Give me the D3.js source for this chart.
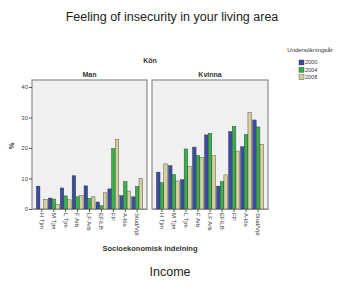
<!DOCTYPE html>
<html>
<head>
<meta charset="utf-8">
<script src="https://cdn.jsdelivr.net/npm/d3@7"></script>
<style>
  body { margin: 0; background: #fff; }
  svg text { font-family: "Liberation Sans", Arial, sans-serif; }
</style>
</head>
<body>
<svg id="chart" width="340" height="287"></svg>
<script>
// categories and series
const categories = ["H Tjm", "M Tjm", "L Tjm", "F Arb", "LF Arb", "EF/LB", "FP", "A-lös", "Stud/Vpl"];
const years = ["2000", "2004", "2008"];
const genders = ["Man", "Kvinna"];
const yTicks = [0, 10, 20, 30, 40];

const man2000 = [7.5, 3.6, 6.9, 10.9, 7.6, 2.3, 6.6, 4.4, 4.0];
const man2004 = [null, 3.3, 4.3, 4.0, 3.5, 1.1, 19.9, 9.0, 7.4];
const man2008 = [3.2, 1.5, 3.0, 4.4, 4.0, 5.3, 22.7, 5.9, 10.0];

const kvinna2000 = [12.1, 14.2, 9.6, 20.3, 24.3, 7.5, 25.4, 20.4, 29.2];
const kvinna2004 = [8.6, 11.3, 19.7, 17.6, 24.8, 9.0, 27.1, 24.4, 26.9];
const kvinna2008 = [14.8, 9.2, 14.0, 16.9, 17.5, 11.2, 19.0, 31.6, 21.2];

const yearColors = ["#3a4ea0", "#35b24a", "#d6d19c"];

const panelData = {
  "Man": [man2000, man2004, man2008],
  "Kvinna": [kvinna2000, kvinna2004, kvinna2008]
};

const svg = d3.select("#chart");

const panelTop = 80, panelBottom = 209;
const panels = { "Man": [32, 147], "Kvinna": [152, 268] };

const y = d3.scaleLinear().domain([0, 42.3]).range([panelBottom, panelTop]);

// titles
svg.append("text").attr("x", 172).attr("y", 21).attr("text-anchor", "middle")
  .attr("font-size", 12.5).attr("fill", "#222")
  .text("Feeling of insecurity in your living area");

svg.append("text").attr("x", 150).attr("y", 63).attr("text-anchor", "middle")
  .attr("font-size", 7).attr("font-weight", "bold").attr("fill", "#333")
  .text("Kön");

svg.append("text").attr("x", 150).attr("y", 251).attr("text-anchor", "middle")
  .attr("font-size", 7.5).attr("font-weight", "bold").attr("fill", "#333")
  .text("Socioekonomisk indelning");

svg.append("text").attr("x", 170).attr("y", 276).attr("text-anchor", "middle")
  .attr("font-size", 12.5).attr("fill", "#222")
  .text("Income");

svg.append("text").attr("transform", "translate(14,146) rotate(-90)")
  .attr("text-anchor", "middle").attr("font-size", 7.5).attr("font-weight", "bold")
  .attr("fill", "#333").text("%");

// panels
genders.forEach(function(g) {
  const [x0, x1] = panels[g];
  const x = d3.scaleBand().domain(categories).range([x0, x1])
    .paddingInner(0.07).paddingOuter(0.36);
  const xs = d3.scaleBand().domain(years).range([0, x.bandwidth()]).padding(0.02);

  svg.append("rect").attr("x", x0).attr("y", panelTop)
    .attr("width", x1 - x0).attr("height", panelBottom - panelTop)
    .attr("fill", "#f0f0f0").attr("stroke", "#8c8c8c").attr("stroke-width", 1.2);

  svg.append("text").attr("x", (x0 + x1) / 2).attr("y", 77).attr("text-anchor", "middle")
    .attr("font-size", 7).attr("font-weight", "bold").attr("fill", "#333").text(g);

  panelData[g].forEach(function(series, yi) {
    svg.append("g").selectAll("rect")
      .data(series.map((v, i) => ({ cat: categories[i], v: v })).filter(d => d.v != null))
      .enter().append("rect")
      .attr("x", d => x(d.cat) + xs(years[yi]))
      .attr("width", xs.bandwidth())
      .attr("y", d => y(d.v))
      .attr("height", d => y(0) - y(d.v))
      .attr("fill", yearColors[yi])
      .attr("stroke", "#333").attr("stroke-width", 0.4);
  });

  const xAxis = d3.axisBottom(x).tickSize(3).tickSizeOuter(0);
  const gx = svg.append("g").attr("transform", `translate(0,${panelBottom})`).call(xAxis);
  gx.select(".domain").attr("stroke", "#8c8c8c");
  gx.selectAll(".tick line").attr("stroke", "#555");
  gx.selectAll(".tick text")
    .attr("font-size", 6).attr("fill", "#333")
    .attr("text-anchor", "start")
    .attr("transform", "rotate(90)")
    .attr("x", 4).attr("y", 0).attr("dy", "0.35em");
});

// y axis
const yAxis = d3.axisLeft(y).tickValues(yTicks).tickSize(3).tickSizeOuter(0);
const gy = svg.append("g").attr("transform", `translate(${panels.Man[0]},0)`).call(yAxis);
gy.select(".domain").remove();
gy.selectAll(".tick line").attr("stroke", "#555");
gy.selectAll(".tick text").attr("font-size", 6).attr("fill", "#444").attr("x", -4);

// legend
const legend = svg.append("g");
legend.append("text").attr("x", 310).attr("y", 52).attr("text-anchor", "middle")
  .attr("font-size", 6).attr("fill", "#333").text("Undersökningsår");
const ly = d3.scaleBand().domain(years).range([59, 81]);
years.forEach(function(yr, i) {
  legend.append("rect").attr("x", 299).attr("y", ly(yr) + 1)
    .attr("width", 5).attr("height", 5)
    .attr("fill", yearColors[i]).attr("stroke", "#333").attr("stroke-width", 0.4);
  legend.append("text").attr("x", 305).attr("y", ly(yr) + 3.5).attr("dy", "0.35em")
    .attr("font-size", 5.5).attr("fill", "#333").text(yr);
});
</script>
</body>
</html>
